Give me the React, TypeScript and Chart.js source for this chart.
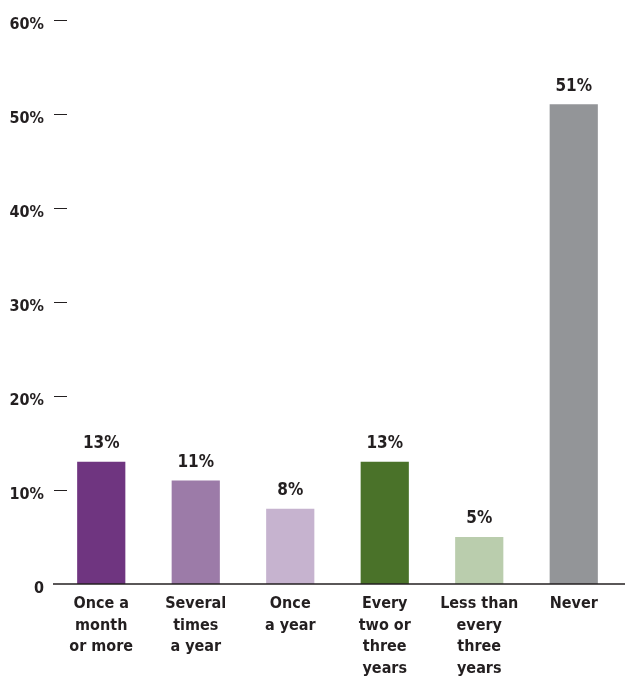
import React, { useEffect, useRef } from "react";
import { Chart, registerables } from "chart.js";

Chart.register(...registerables);

const categories: string[][] = [
  ["Once a", "month", "or more"],
  ["Several", "times", "a year"],
  ["Once", "a year"],
  ["Every", "two or", "three", "years"],
  ["Less than", "every", "three", "years"],
  ["Never"],
];
const values: number[] = [13, 11, 8, 13, 5, 51];
const barColors: string[] = ["#6f3580", "#9c7ba8", "#c6b3cf", "#4a7229", "#bacdad", "#939598"];
const yTicks: number[] = [0, 10, 20, 30, 40, 50, 60];

const FONT_FAMILY = "'Liberation Sans Narrow', 'DejaVu Sans Condensed', 'Roboto Condensed', sans-serif";
const INK = "#231f20";

const decorPlugin = {
  id: "decor",
  afterDatasetsDraw(chart: any) {
    const ctx = chart.ctx;
    const y = chart.scales.y;
    const area = chart.chartArea;
    ctx.save();
    ctx.strokeStyle = INK;
    ctx.lineWidth = 1;
    yTicks.forEach((t) => {
      if (t === 0) return;
      const py = Math.round(y.getPixelForValue(t)) + 0.5;
      ctx.beginPath();
      ctx.moveTo(area.left, py);
      ctx.lineTo(area.left + 13, py);
      ctx.stroke();
    });
    const py0 = y.getPixelForValue(0);
    ctx.lineWidth = 1.6;
    ctx.beginPath();
    ctx.moveTo(area.left - 1, py0);
    ctx.lineTo(chart.width, py0);
    ctx.stroke();
    ctx.fillStyle = INK;
    ctx.font = `bold 17px ${FONT_FAMILY}`;
    ctx.textAlign = "center";
    ctx.textBaseline = "middle";
    const meta = chart.getDatasetMeta(0);
    meta.data.forEach((bar: any, i: number) => {
      ctx.fillText(values[i] + "%", bar.x, bar.y - 18);
    });
    ctx.restore();
  },
};

export default function App() {
  const ref = useRef<HTMLCanvasElement | null>(null);
  useEffect(() => {
    if (!ref.current) return;
    const chart = new Chart(ref.current, {
      type: "bar",
      data: {
        labels: categories,
        datasets: [
          {
            data: values,
            backgroundColor: barColors,
            barPercentage: 0.51,
            categoryPercentage: 1,
          },
        ],
      },
      options: {
        animation: false,
        responsive: true,
        maintainAspectRatio: false,
        layout: { padding: { top: 17, right: 4, left: 0, bottom: 0 } },
        plugins: { legend: { display: false }, tooltip: { enabled: false } },
        scales: {
          x: {
            grid: { display: false, drawTicks: false },
            border: { display: false },
            ticks: {
              color: INK,
              padding: 9,
              maxRotation: 0,
              autoSkip: false,
              font: { family: FONT_FAMILY, size: 16, weight: "bold", lineHeight: 1.35 },
            },
            afterFit: (s: any) => {
              s.height = 93;
            },
          },
          y: {
            min: 0,
            max: 60,
            grid: { display: false, drawTicks: false },
            border: { display: false },
            ticks: {
              stepSize: 10,
              color: INK,
              padding: 10,
              labelOffset: 5,
              font: { family: FONT_FAMILY, size: 16, weight: "bold" },
              callback: (v: any) => (Number(v) === 0 ? "0" : v + "%"),
            },
            afterFit: (s: any) => {
              s.width = 54;
            },
          },
        },
      },
      plugins: [decorPlugin],
    });
    return () => chart.destroy();
  }, []);
  return (
    <div style={{ position: "fixed", left: 0, top: 0, width: 625, height: 677, background: "#fff" }}>
      <canvas ref={ref} />
    </div>
  );
}
